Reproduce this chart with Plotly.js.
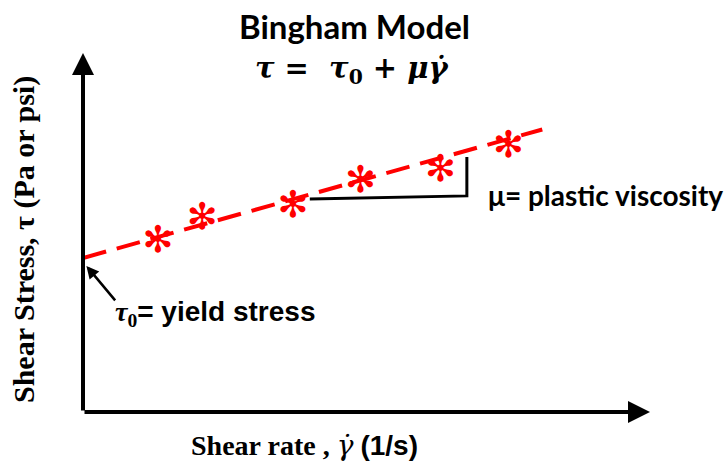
<!DOCTYPE html>
<html>
<head>
<meta charset="utf-8">
<script src="https://cdn.plot.ly/plotly-3.0.1.min.js"></script>
<style>html,body{margin:0;padding:0;background:#fff;}#chart{width:724px;height:467px;}</style>
</head>
<body>
<div id="chart"></div>
<script>
// Data (arbitrary units: shear rate vs shear stress)
const shearRate   = [1.32, 2.10, 3.70, 4.89, 6.30, 7.50];
const shearStress = [4.71, 5.35, 5.68, 6.38, 6.69, 7.35];
// Bingham fit line: tau = tau0 + mu * gammaDot
const fitRate   = [0, 8.1];
const fitStress = [4.29, 7.87];
// Slope indicator (plastic viscosity)
const slopeRate   = [4.00, 6.77, 6.77];
const slopeStress = [5.93, 6.02, 7.10];
const yieldPoint = [0.06, 4.07];
const axisMax = [10, 10];

// pixel-to-paper helpers for layout positions
const L = 83, R = 650, T = 53, B = 412;
const px = x => (x - L) / (R - L);
const py = y => (B - y) / (B - T);

const traces = [
  {x: fitRate, y: fitStress, mode: 'lines', type: 'scatter',
   line: {color: '#ff0000', width: 4, dash: '24px,11px'}, hoverinfo: 'skip'},
  {x: slopeRate, y: slopeStress, mode: 'lines', type: 'scatter',
   line: {color: '#000', width: 3}, hoverinfo: 'skip'},
  {x: shearRate, y: shearStress, mode: 'text', type: 'scatter',
   text: shearRate.map(() => '<b>✻</b>'), textposition: 'middle center',
   textfont: {family: 'DejaVu Sans', size: 37, color: '#ff0000'}, hoverinfo: 'skip'}
];

const serif = 'Liberation Serif, Times New Roman, serif';
const layout = {
  width: 724, height: 467,
  margin: {l: L, r: 724 - R, t: T, b: 467 - B, pad: 0},
  paper_bgcolor: '#fff', plot_bgcolor: '#fff',
  showlegend: false,
  xaxis: {range: [0, axisMax[0]], showgrid: false, zeroline: false, showticklabels: false, showline: false, ticks: ''},
  yaxis: {range: [0, axisMax[1]], showgrid: false, zeroline: false, showticklabels: false, showline: false, ticks: ''},
  annotations: [
    // axes with arrowheads
    {x: axisMax[0], y: 0, ax: 0, ay: 0, xref: 'x', yref: 'y', axref: 'x', ayref: 'y', text: '',
     showarrow: true, arrowhead: 2, arrowsize: 1.1, arrowwidth: 4, arrowcolor: '#000'},
    {x: 0, y: axisMax[1], ax: 0, ay: 0, xref: 'x', yref: 'y', axref: 'x', ayref: 'y', text: '',
     showarrow: true, arrowhead: 2, arrowsize: 1.1, arrowwidth: 4, arrowcolor: '#000'},
    // yield stress arrow
    {x: yieldPoint[0], y: yieldPoint[1], ax: 30, ay: 36, xref: 'x', yref: 'y', text: '',
     showarrow: true, arrowhead: 2, arrowsize: 1, arrowwidth: 2.5, arrowcolor: '#000'},
    // titles
    {x: px(354), y: py(26), xref: 'paper', yref: 'paper', xanchor: 'center', yanchor: 'middle', showarrow: false,
     text: '<b>Bingham Model</b>', font: {family: 'Lato, Open Sans, sans-serif', size: 33, color: '#000'}},
    {x: px(352), y: py(70), xref: 'paper', yref: 'paper', xanchor: 'center', yanchor: 'middle', showarrow: false,
     text: '<b><i>τ</i> =  <i>τ</i><sub>0</sub> + <i>μγ̇</i></b>', font: {family: 'DejaVu Serif, serif', size: 29, color: '#000'}},
    // axis titles
    {x: px(24), y: py(240), xref: 'paper', yref: 'paper', xanchor: 'center', yanchor: 'middle', showarrow: false,
     textangle: -90, text: '<b>Shear Stress, τ (Pa or psi)</b>', font: {family: serif, size: 30, color: '#000'}},
    {x: px(304), y: py(446), xref: 'paper', yref: 'paper', xanchor: 'center', yanchor: 'middle', showarrow: false,
     text: '<b>Shear rate , <span style="font-family:DejaVu Serif, serif;font-weight:normal"><i>γ̇</i></span> <span style="font-family:Liberation Sans, Arial, sans-serif">(1/s)</span></b>',
     font: {family: serif, size: 28, color: '#000'}},
    // labels
    {x: px(113), y: py(313), xref: 'paper', yref: 'paper', xanchor: 'left', yanchor: 'middle', showarrow: false,
     text: '<b><span style="font-family:Liberation Serif, serif"><i>τ</i><sub>0</sub></span>= yield stress</b>',
     font: {family: 'Liberation Sans, Arial, sans-serif', size: 28, color: '#000'}},
    {x: px(486), y: py(195), xref: 'paper', yref: 'paper', xanchor: 'left', yanchor: 'middle', showarrow: false,
     text: '<b>μ= plastic viscosity</b>',
     font: {family: 'Lato, Open Sans, sans-serif', size: 28, color: '#000'}}
  ]
};

Plotly.newPlot('chart', traces, layout, {staticPlot: true, displayModeBar: false});
</script>
</body>
</html>
